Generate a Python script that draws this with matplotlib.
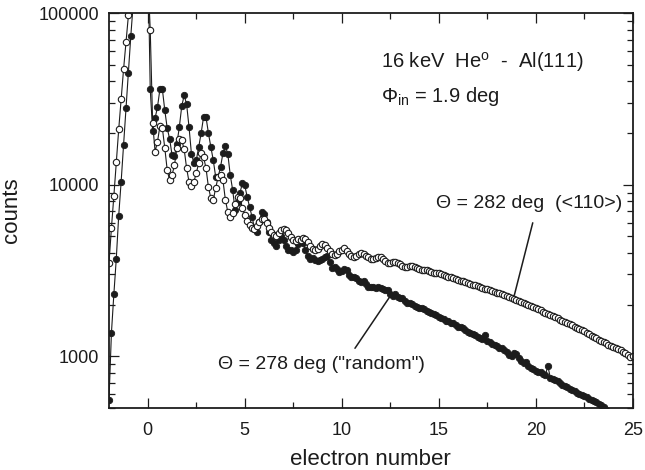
import numpy as np
import matplotlib
matplotlib.use("Agg")
import matplotlib.pyplot as plt
from matplotlib.ticker import MultipleLocator, FixedLocator, FuncFormatter, NullFormatter, LogLocator

plt.rcParams['font.family'] = ['Liberation Sans', 'DejaVu Sans']
plt.rcParams['mathtext.fontset'] = 'custom'
plt.rcParams['mathtext.rm'] = 'Liberation Sans'
plt.rcParams['mathtext.it'] = 'Liberation Sans:italic'

# electron number axis: channels start at -2, step 0.125
x_start = -2.0
x_step = 0.125

# Theta = 282 deg (<110>), open circles
counts_282 = [
    3500, 5600, 8600, 13500, 21000, 31500, 47000, 68000, 97000, 135000,
    180000, 230000, 270000, 290000, 280000, 240000, 170000, 80000,
    22900, 15600, 17800, 22000, 21400, 16400, 12200, 10600, 11400, 13000,
    16400, 18500, 18200, 16100, 12500, 10400, 9830, 10400, 11700, 13400,
    15300, 14500, 12500, 9700, 8350, 8150, 9570, 11100, 11400, 10600,
    8150, 6940, 6490, 6840, 7720, 8480, 8350, 7320,
    6660, 6145, 5825, 5595, 5525, 5750, 6065, 6315, 6315, 5985,
    5595, 5305, 5095, 5030, 5235, 5450, 5525, 5450, 5235, 4960,
    4765, 4700, 4830, 4765, 4895, 4830, 4640, 4400, 4225, 4170,
    4225, 4400, 4515, 4455, 4280, 4110, 3950, 3900, 3950, 4110,
    4170, 4280, 4110, 3950, 3845, 3795, 3845, 3950, 4005, 3950,
    3845, 3795, 3695, 3695, 3745, 3795, 3795, 3695, 3595, 3500,
    3500, 3550, 3550, 3500, 3455, 3365, 3320, 3320, 3365, 3365,
    3320, 3275, 3230, 3190, 3190, 3190, 3145, 3105, 3065, 3065,
    3065, 3020, 2980, 2940, 2905, 2905, 2865, 2825, 2790, 2750,
    2750, 2715, 2680, 2645, 2610, 2610, 2575, 2540, 2505, 2470,
    2470, 2440, 2405, 2375, 2345, 2345, 2310, 2280, 2250, 2220,
    2190, 2160, 2135, 2105, 2075, 2050, 2020, 1995, 1970, 1940,
    1915, 1890, 1865, 1815, 1790, 1770, 1745, 1720, 1700, 1675,
    1630, 1610, 1590, 1565, 1545, 1525, 1485, 1465, 1445, 1425,
    1410, 1370, 1350, 1315, 1300, 1280, 1250, 1230, 1215, 1200,
    1165, 1150, 1135, 1120, 1105, 1090, 1065, 1050, 1020, 995,
    1005,
]

# Theta = 278 deg ("random"), filled circles
counts_278 = [
    560, 1370, 2300, 3700, 6600, 10400, 17000, 28000, 45000, 74000,
    115000, 170000, 230000, 280000, 300000, 290000, 230000, 36000,
    20600, 24400, 28400, 36100, 36100, 27200, 21400, 18500, 14900, 14700,
    17300, 21700, 28700, 33200, 29500, 21700, 15100, 13400, 13900, 16600,
    20000, 24800, 24800, 20000, 16600, 13900, 11100, 11100, 12700, 15300,
    16800, 15100, 11400, 9310, 7130, 7930, 8950, 10200, 9900, 8480, 7420,
    6485, 5595, 5305, 6065, 6935, 6750, 6065, 5305, 4765, 4575,
    4400, 4765, 5030, 4765, 4400, 4170, 4170, 4060, 4170, 4515,
    4765, 4575, 4170, 3845, 3695, 3745, 3645, 3595, 3645, 3695,
    3795, 3845, 3550, 3275, 3320, 3230, 3105, 3145, 3230, 3190,
    2980, 2905, 2905, 2865, 2750, 2715, 2750, 2645, 2540, 2540,
    2540, 2505, 2540, 2505, 2470, 2440, 2440, 2310, 2250, 2310,
    2220, 2190, 2190, 2105, 2050, 2050, 2020, 1970, 1940, 1915,
    1915, 1890, 1840, 1815, 1790, 1770, 1745, 1700, 1675, 1655,
    1610, 1610, 1565, 1565, 1525, 1485, 1485, 1465, 1425, 1390,
    1370, 1350, 1335, 1300, 1280, 1265, 1335, 1230, 1215, 1180,
    1165, 1150, 1120, 1120, 1090, 1065, 1020, 1005, 1050, 1035,
    980, 940, 920, 930, 880, 856, 845, 822, 811, 811,
    790, 779, 880, 749, 739, 729, 719, 700, 682, 672,
    663, 646, 638, 629, 612, 604, 596, 588, 580, 565,
    557, 550, 543, 528, 521, 508, 488, 474, 462, 450,
    439, 428, 417, 400, 390, 375, 366, 352,
]

x_282 = x_start + x_step * np.arange(len(counts_282))
x_278 = x_start + x_step * np.arange(len(counts_278))

ink = '#1c1c1c'

fig = plt.figure(figsize=(6.45, 4.7), dpi=100)
ax = fig.add_axes([0.169, 0.132, 0.812, 0.840])

ax.plot(x_278, counts_278, '-o', color=ink, lw=0.8, ms=4.6, mfc=ink, mec=ink, mew=0.6)
ax.plot(x_282, counts_282, '-o', color=ink, lw=0.8, ms=4.6, mfc='white', mec=ink, mew=0.8)

ax.set_yscale('log')
ax.set_xlim(-2, 25)
ax.set_ylim(500, 100000)

ax.xaxis.set_major_locator(FixedLocator([0, 5, 10, 15, 20, 25]))
ax.xaxis.set_minor_locator(MultipleLocator(2.5))
ax.yaxis.set_major_locator(FixedLocator([1000, 10000, 100000]))
ax.yaxis.set_minor_locator(LogLocator(base=10, subs=np.arange(2, 10)))
ax.yaxis.set_major_formatter(FuncFormatter(lambda v, p: f'{int(round(v))}'))
ax.yaxis.set_minor_formatter(NullFormatter())

ax.tick_params(which='both', direction='in', top=True, right=True, colors=ink,
               labelsize=13, width=0.9)
ax.tick_params(which='major', length=7)
ax.tick_params(axis='x', which='major', pad=10)
ax.tick_params(axis='y', which='major', pad=7)
ax.tick_params(which='minor', length=4)
for s in ax.spines.values():
    s.set_linewidth(1.3)
    s.set_color(ink)

ax.set_xlabel('electron number', fontsize=16, color=ink, labelpad=7)
ax.set_ylabel('counts', fontsize=16, color=ink, labelpad=12)

ax.text(0.52, 0.876, '16 keV  He$^{\\rm o}$  -  Al(111)', transform=ax.transAxes,
        fontsize=14.5, color=ink, va='center', ha='left')
ax.text(0.52, 0.79, '\u03a6$_{\\rm in}$ = 1.9 deg', transform=ax.transAxes,
        fontsize=14.5, color=ink, va='center', ha='left')

ax.text(0.624, 0.519, '\u0398 = 282 deg  (<110>)', transform=ax.transAxes,
        fontsize=14, color=ink, va='center', ha='left')
ax.text(0.208, 0.109, '\u0398 = 278 deg ("random")', transform=ax.transAxes,
        fontsize=14, color=ink, va='center', ha='left')

# pointer lines from labels to curves
ax.annotate('', xy=(18.86, 2190), xytext=(19.88, 6220),
            arrowprops=dict(arrowstyle='-', color=ink, lw=1.1))
ax.annotate('', xy=(12.54, 2280), xytext=(10.6, 1080),
            arrowprops=dict(arrowstyle='-', color=ink, lw=1.1))

fig.savefig('out.png', dpi=100)
